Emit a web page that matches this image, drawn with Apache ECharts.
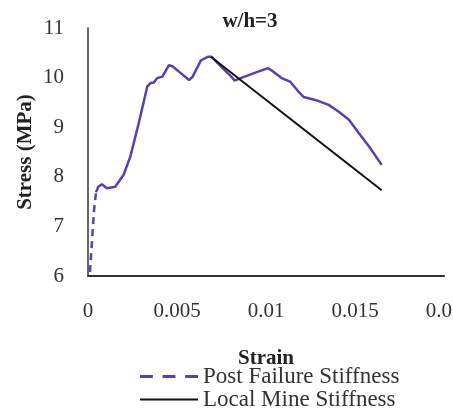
<!DOCTYPE html>
<html>
<head>
<meta charset="utf-8">
<script src="https://cdn.jsdelivr.net/npm/echarts@6/dist/echarts.min.js"></script>
<style>
html,body{margin:0;padding:0;background:#fff;}
#c{width:453px;height:411px;}
</style>
</head>
<body>
<div id="c"></div>
<script>
var strainStart = [0.00011, 0.00023, 0.00034, 0.00045];
var stressStart = [6.08, 6.73, 7.33, 7.69];

var strain = [0.00045, 0.00058, 0.00078, 0.00106, 0.00153, 0.0020, 0.00238, 0.00285, 0.00333, 0.00351, 0.00370, 0.00389, 0.00418, 0.00455, 0.00474, 0.00521, 0.00568, 0.00588, 0.00635, 0.00673, 0.00695, 0.00748, 0.00805, 0.00823, 0.0088, 0.00956, 0.01012, 0.01041, 0.01088, 0.01135, 0.01182, 0.01211, 0.01277, 0.01352, 0.01409, 0.01466, 0.01522, 0.01579, 0.01650];
var stress = [7.69, 7.80, 7.85, 7.77, 7.80, 8.04, 8.41, 9.08, 9.82, 9.89, 9.90, 9.99, 10.02, 10.25, 10.23, 10.09, 9.95, 10.02, 10.35, 10.42, 10.42, 10.22, 10.02, 9.94, 10.02, 10.12, 10.19, 10.12, 9.99, 9.92, 9.72, 9.61, 9.55, 9.45, 9.31, 9.15, 8.88, 8.61, 8.24];

var mineStrain = [0.00690, 0.01650];
var mineStress = [10.42, 7.73];

var xTicks = [0, 0.005, 0.01, 0.015, 0.02];
var yTicks = [6, 7, 8, 9, 10, 11];
var seriesNames = ['Post Failure Stiffness', 'Local Mine Stiffness'];
var title = 'w/h=3';

function pairs(xs, ys){ return xs.map(function(x,i){return [x, ys[i]];}); }

var purple = '#5b3fb0';
var font = 'Liberation Serif, Times New Roman, serif';
var legendText = {fontFamily: font, fontSize: 23, color: '#333'};

var chart = echarts.init(document.getElementById('c'));
chart.setOption({
  animation: false,
  backgroundColor: '#fff',
  title: {
    text: title, left: 245, top: 6, textAlign: 'center',
    textStyle: {fontFamily: font, fontWeight: 'bold', fontSize: 21, color: '#222'}
  },
  grid: {left: 88, right: 9, top: 28, bottom: 135, containLabel: false, outerBoundsMode: 'none'},
  xAxis: {
    type: 'value', min: xTicks[0], max: xTicks[xTicks.length-1], interval: 0.005,
    name: 'Strain', nameLocation: 'middle', nameGap: 72, nameMoveOverlap: false,
    nameTextStyle: {fontFamily: font, fontWeight: 'bold', fontSize: 21, color: '#222'},
    axisLine: {lineStyle: {color: '#333', width: 2}},
    axisTick: {show: false},
    splitLine: {show: false},
    axisLabel: {fontFamily: font, fontSize: 21, color: '#333', margin: 25, hideOverlap: false}
  },
  yAxis: {
    type: 'value', min: yTicks[0], max: yTicks[yTicks.length-1], interval: 1,
    name: 'Stress (MPa)', nameLocation: 'middle', nameGap: 52, nameMoveOverlap: false,
    nameTextStyle: {fontFamily: font, fontWeight: 'bold', fontSize: 21, color: '#222'},
    axisLine: {show: true, lineStyle: {color: '#333', width: 1.5}},
    axisTick: {show: false},
    splitLine: {show: false},
    axisLabel: {fontFamily: font, fontSize: 21, color: '#333', margin: 24}
  },
  legend: [
    {
      left: 135, top: 360, itemWidth: 58, itemHeight: 12, itemGap: 2,
      textStyle: legendText,
      data: [{name: seriesNames[0], icon: 'path://M0,0 L12,0 L12,3 L0,3 Z M21,0 L33,0 L33,3 L21,3 Z M42,0 L54,0 L54,3 L42,3 Z', itemStyle: {color: purple}}]
    },
    {
      left: 135, top: 383, itemWidth: 58, itemHeight: 12, itemGap: 2,
      textStyle: legendText,
      data: [{name: seriesNames[1], icon: 'path://M0,0 L58,0 L58,2 L0,2 Z', itemStyle: {color: '#111'}}]
    }
  ],
  series: [
    {name: seriesNames[0], type: 'line', data: pairs(strain, stress), showSymbol: false, symbol: 'none',
     lineStyle: {color: purple, width: 2.5}, itemStyle: {color: purple}},
    {name: 'start', type: 'line', data: pairs(strainStart, stressStart), showSymbol: false, symbol: 'none',
     lineStyle: {color: purple, width: 2.5, type: [7, 5]}},
    {name: seriesNames[1], type: 'line', data: pairs(mineStrain, mineStress), showSymbol: false, symbol: 'none',
     lineStyle: {color: '#111', width: 2}, itemStyle: {color: '#111'}}
  ]
});
</script>
</body>
</html>
